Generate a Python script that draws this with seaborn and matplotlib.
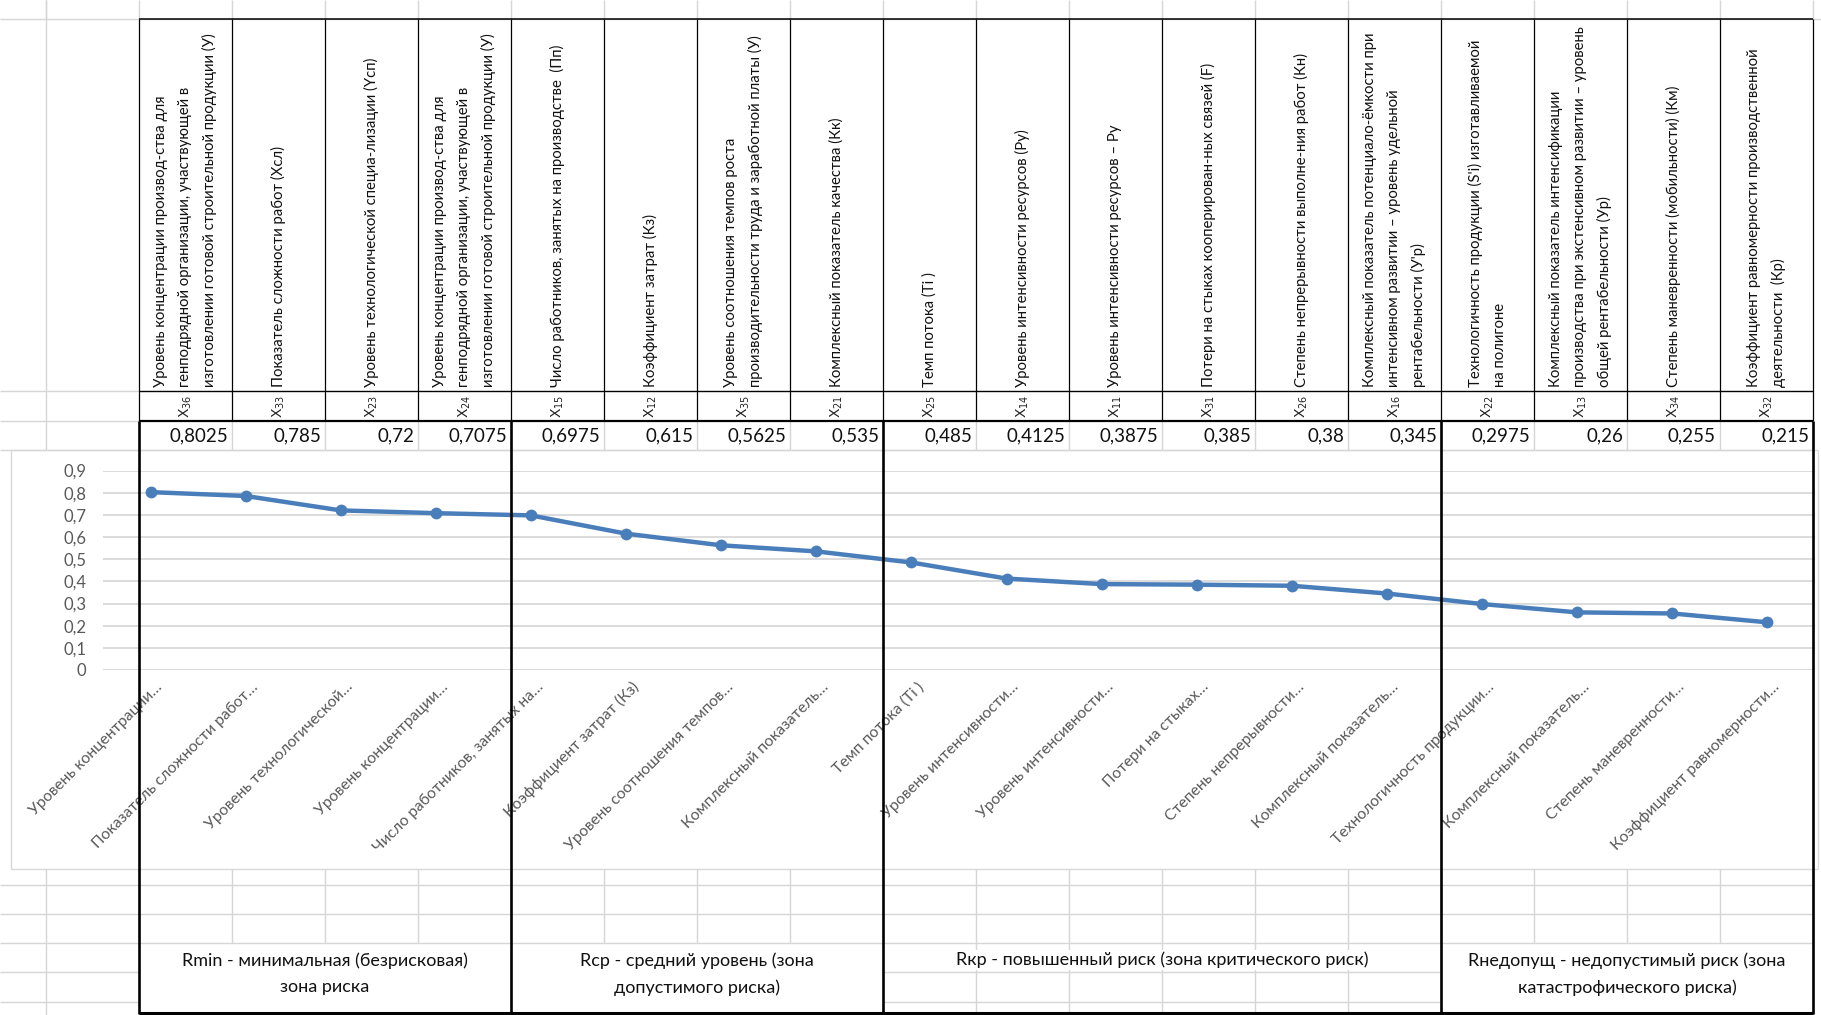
import numpy as np
import pandas as pd
import matplotlib
matplotlib.use('Agg')
import matplotlib.pyplot as plt
import seaborn as sns
from matplotlib.patches import Rectangle
from matplotlib.transforms import ScaledTranslation

# --- data ---
header_texts = [
    "Уровень концентрации производ-ства для\nгенподрядной организации, участвующей в\nизготовлении готовой строительной продукции (У)",
    "Показатель сложности работ (Xсл)",
    "Уровень технологической специа-лизации (Yсп)",
    "Уровень концентрации производ-ства для\nгенподрядной организации, участвующей в\nизготовлении готовой строительной продукции (У)",
    "Число работников, занятых на производстве  (Пп)",
    "Коэффициент затрат (Кз)",
    "Уровень соотношения темпов роста\nпроизводительности труда и заработной платы (У)",
    "Комплексный показатель качества (Кк)",
    "Темп потока (Ti )",
    "Уровень интенсивности ресурсов (Ру)",
    "Уровень интенсивности ресурсов – Ру",
    "Потери на стыках кооперирован-ных связей (F)",
    "Степень непрерывности выполне-ния работ (Кн)",
    "Комплексный показатель потенциало-ёмкости при\nинтенсивном развитии – уровень удельной\nрентабельности (У'р)",
    "Технологичность продукции (S'i) изготавливаемой\nна полигоне",
    "Комплексный показатель интенсификации\nпроизводства при экстенсивном развитии – уровень\nобщей рентабельности (Ур)",
    "Степень маневренности (мобильности) (Км)",
    "Коэффициент равномерности производственной\nдеятельности  (Кр)",
]
codes = ['36', '33', '23', '24', '15', '12', '35', '21', '25',
         '14', '11', '31', '26', '16', '22', '13', '34', '32']
values = [0.8025, 0.785, 0.72, 0.7075, 0.6975, 0.615, 0.5625, 0.535, 0.485,
          0.4125, 0.3875, 0.385, 0.38, 0.345, 0.2975, 0.26, 0.255, 0.215]
tick_labels = [
    "Уровень концентрации…", "Показатель сложности работ…", "Уровень технологической…",
    "Уровень концентрации…", "Число работников, занятых на…", "Коэффициент затрат (Кз)",
    "Уровень соотношения темпов…", "Комплексный показатель…", "Темп потока (Ti )",
    "Уровень интенсивности…", "Уровень интенсивности…", "Потери на стыках…",
    "Степень непрерывности…", "Комплексный показатель…", "Технологичность продукции…",
    "Комплексный показатель…", "Степень маневренности…", "Коэффициент равномерности…",
]
y_ticks = [0, 0.1, 0.2, 0.3, 0.4, 0.5, 0.6, 0.7, 0.8, 0.9]
y_tick_labels = ['0', '0,1', '0,2', '0,3', '0,4', '0,5', '0,6', '0,7', '0,8', '0,9']
zone_names = [
    "Rmin - минимальная (безрисковая)\nзона риска",
    "Rср - средний уровень (зона\nдопустимого риска)",
    "Rкр - повышенный риск (зона критического риск)",
    "Rнедопущ - недопустимый риск (зона\nкатастрофического риска)",
]
zone_cols = [(0, 4), (4, 8), (8, 14), (14, 18)]

df = pd.DataFrame({'pos': np.arange(len(values)), 'val': values})

W, H = 1821, 1015
sns.set_theme(style='white')
plt.rcParams['font.family'] = ['Lato', 'DejaVu Sans']

fig = plt.figure(figsize=(W / 100, H / 100), dpi=100)
fig.patch.set_facecolor('white')

GRID = '#d6d6d6'
x0, cw = 139, 93.0
col_x = [x0 + cw * i for i in range(19)]

# background sheet layer (pixel coords)
bg = fig.add_axes([0, 0, 1, 1], zorder=0)
bg.set_xlim(0, W)
bg.set_ylim(H, 0)
bg.axis('off')

def gl(ax, xs, ys, c=GRID, lw=1.0):
    ax.plot(xs, ys, color=c, lw=lw, solid_capstyle='butt')

gl(bg, [0, W], [19, 19])
for x in [46] + col_x:
    gl(bg, [x, x], [0, 19])
gl(bg, [46, 46], [0, 450])
for y in [391, 421, 450]:
    gl(bg, [0, 139], [y, y])
for x in col_x:
    gl(bg, [x, x], [421, 450])
gl(bg, [139, 1813], [450, 450])

# rows under the chart
for y in [885, 914, 943]:
    gl(bg, [0, 1813], [y, y])
for y in [972, 1002]:
    gl(bg, [0, 139], [y, y])
    gl(bg, [col_x[8], col_x[14]], [y, y])
gl(bg, [46, 46], [869, H])
for i, x in enumerate(col_x):
    gl(bg, [x, x], [869, 943])
    if 8 < i < 14:
        gl(bg, [x, x], [943, 1013])

# chart frame
bg.add_patch(Rectangle((11, 450), 1807, 419, facecolor='white', edgecolor='#d9d9d9', lw=1.0))

# header texts
for i, t in enumerate(header_texts):
    cx = x0 + cw * (i + 0.5)
    bg.text(cx, 387, t, rotation=90, ha='center', va='bottom', multialignment='left',
            fontsize=10.75, linespacing=1.85, color='#111111')
    bg.text(cx, 406, r'$\mathrm{X}_{' + codes[i] + '}$', rotation=90, ha='center',
            va='center', fontsize=10, color='#222222')
    bg.text(col_x[i + 1] - 4, 436, str(values[i]).replace('.', ','), ha='right',
            va='center', fontsize=13.5, color='#111111')

# zone labels
for name, (a, b) in zip(zone_names, zone_cols):
    cx = (col_x[a] + col_x[b]) / 2
    if '\n' in name:
        bg.text(cx, 974, name, ha='center', va='center', fontsize=13, linespacing=1.75,
                color='#111111', multialignment='center')
    else:
        bg.text(cx, 960, name, ha='center', va='center', fontsize=13, color='#111111',
                bbox=dict(facecolor='white', edgecolor='none', pad=1))

# --- the line chart ---
ax = fig.add_axes([103 / W, 1 - 670 / H, (1815 - 103) / W, (670 - 470.5) / H], zorder=1)
ax.set_facecolor('none')
sns.lineplot(data=df, x='pos', y='val', ax=ax, color='#4a7ebb', lw=3.2,
             marker='o', markersize=8.5, markeredgewidth=0)
ax.set_xlim(-0.5, len(values) - 0.5)
ax.set_ylim(0, 0.9)
ax.set_yticks(y_ticks)
ax.set_yticklabels(y_tick_labels, color='#595959', fontsize=12)
ax.set_xticks(df['pos'])
ax.set_xticklabels(tick_labels, rotation=45, ha='right', va='top', rotation_mode='anchor',
                   color='#595959', fontsize=11.3)
ax.grid(axis='y', color='#d9d9d9', lw=1.3)
ax.grid(axis='x', visible=False)
ax.set_axisbelow(True)
for s in ax.spines.values():
    s.set_visible(False)
ax.tick_params(axis='y', length=0, pad=12)
ax.tick_params(axis='x', length=0, pad=7)
ax.set_xlabel('')
ax.set_ylabel('')
for lbl in ax.get_xticklabels():
    lbl.set_transform(lbl.get_transform() + ScaledTranslation(0.05, 0, fig.dpi_scale_trans))

# --- black borders on top ---
fg = fig.add_axes([0, 0, 1, 1], zorder=3)
fg.set_facecolor('none')
fg.set_xlim(0, W)
fg.set_ylim(H, 0)
fg.axis('off')
for x in col_x:
    gl(fg, [x, x], [19, 421], c='black', lw=0.9)
gl(fg, [139, 1813], [19, 19], c='black', lw=1.1)
gl(fg, [139, 1813], [391, 391], c='black', lw=1.0)
gl(fg, [139, 1813], [421, 421], c='black', lw=1.6)
for i in [0, 4, 8, 14, 18]:
    gl(fg, [col_x[i], col_x[i]], [421, 1014], c='black', lw=1.9)
gl(fg, [139, 1813], [1013, 1013], c='black', lw=2.2)

fig.savefig('out.png', dpi=100, facecolor='white')
